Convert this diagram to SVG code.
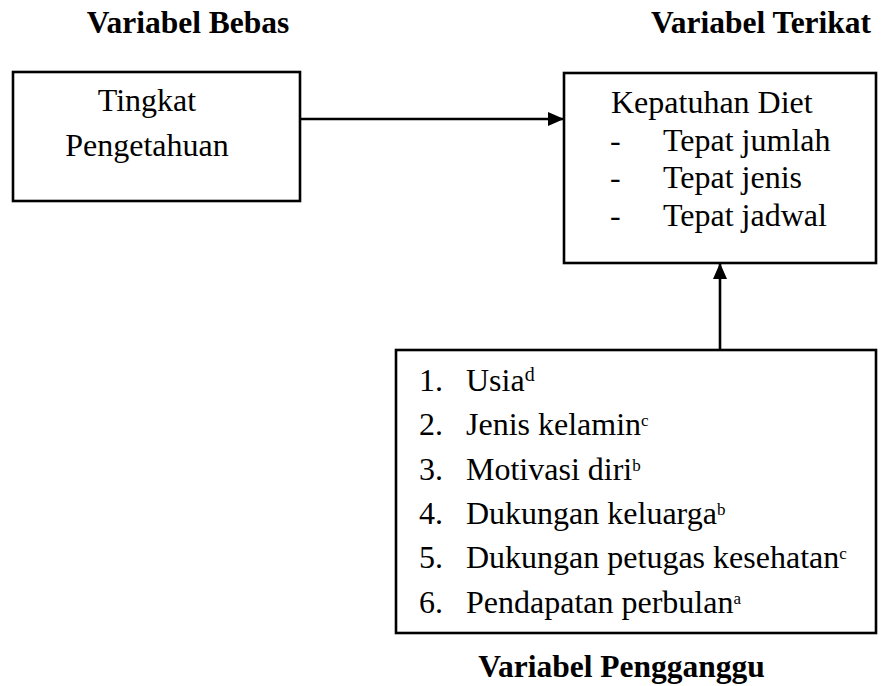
<svg xmlns="http://www.w3.org/2000/svg" width="881" height="686" viewBox="0 0 881 686">
<style>
.box{fill:#fff;stroke:#000;stroke-width:2.6}
.t{font-family:"Liberation Serif","Times New Roman",serif;font-size:32px;fill:#000}
.h{font-family:"Liberation Serif","Times New Roman",serif;font-size:31.5px;font-weight:bold;fill:#000}
.sup{font-size:17px}
.supd{font-size:20px}
.c{stroke:#000;stroke-width:2.6;fill:none}
</style>
<defs>
<marker id="ah" markerWidth="16" markerHeight="14" refX="16" refY="7" orient="auto" markerUnits="userSpaceOnUse">
<path d="M0,0 L16,7 L0,14 Z" fill="#000"/>
</marker>
</defs>
<rect width="881" height="686" fill="#fff"/>
<g id="labels">
<text class="h" x="188" y="33" text-anchor="middle">Variabel Bebas</text>
<text class="h" x="761" y="33" text-anchor="middle">Variabel Terikat</text>
<text class="h" x="621.5" y="677" text-anchor="middle">Variabel Pengganggu</text>
</g>
<g id="node-bebas">
<rect class="box" x="13" y="72" width="287" height="129"/>
<text class="t" x="147" y="111" text-anchor="middle">Tingkat</text>
<text class="t" x="147" y="156" text-anchor="middle">Pengetahuan</text>
</g>
<g id="node-terikat">
<rect class="box" x="564" y="73" width="312" height="190"/>
<text class="t" x="611" y="113">Kepatuhan Diet</text>
<text class="t" x="610" y="150.5">-</text><text class="t" x="663" y="150.5">Tepat jumlah</text>
<text class="t" x="610" y="188">-</text><text class="t" x="663" y="188">Tepat jenis</text>
<text class="t" x="610" y="225.5">-</text><text class="t" x="663" y="225.5">Tepat jadwal</text>
</g>
<g id="node-pengganggu">
<rect class="box" x="396" y="350" width="480" height="283"/>
<text class="t" x="419" y="391">1.</text><text class="t" x="466" y="391">Usia<tspan class="supd" dy="-10">d</tspan></text>
<text class="t" x="419" y="435.3">2.</text><text class="t" x="466" y="435.3">Jenis kelamin<tspan class="sup" dy="-9">c</tspan></text>
<text class="t" x="419" y="479.6">3.</text><text class="t" x="466" y="479.6">Motivasi diri<tspan class="sup" dy="-9">b</tspan></text>
<text class="t" x="419" y="524">4.</text><text class="t" x="466" y="524">Dukungan keluarga<tspan class="sup" dy="-9">b</tspan></text>
<text class="t" x="419" y="568">5.</text><text class="t" x="466" y="568">Dukungan petugas kesehatan<tspan class="sup" dy="-9">c</tspan></text>
<text class="t" x="419" y="612.5">6.</text><text class="t" x="466" y="612.5">Pendapatan perbulan<tspan class="sup" dy="-9">a</tspan></text>
</g>
<g id="connectors">
<line class="c" x1="300" y1="119" x2="564" y2="119" marker-end="url(#ah)"/>
<line class="c" x1="720" y1="350" x2="720" y2="263" marker-end="url(#ah)"/>
</g>
</svg>
